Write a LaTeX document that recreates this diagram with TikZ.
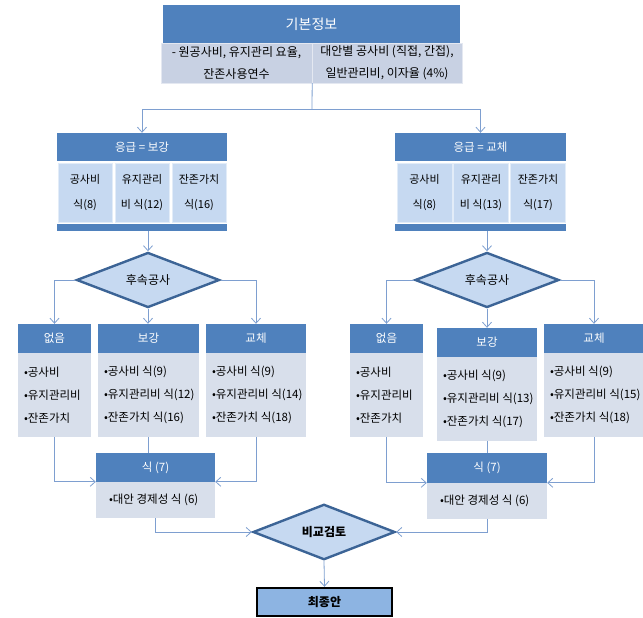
\documentclass[tikz,border=0pt]{standalone}
\usepackage{fontspec}
\setmainfont{Noto Sans CJK KR}
\usetikzlibrary{calc}
\usetikzlibrary{arrows.meta,shapes.geometric}
\definecolor{hblue}{HTML}{4F81BD}
\definecolor{ltop}{HTML}{C8D1E3}
\definecolor{lcell}{HTML}{C6D9F1}
\definecolor{lbody}{HTML}{D8DFEB}
\definecolor{dblue}{HTML}{3C6496}
\definecolor{lline}{HTML}{7E9FD0}
\definecolor{fblue}{HTML}{8DB4E2}

\begin{document}
\begin{tikzpicture}[x=1pt,y=-1pt,>={Straight Barb[length=5pt,width=9pt]}]
	\tikzset{sz/.style args={#1x#2}{minimum width=#1pt,minimum height=#2pt}}
	\tikzset{hd/.style={fill=hblue,text=white,inner sep=0pt,font=\fontsize{11.5}{13}\selectfont}}
	\tikzset{bd/.style={fill=lbody,inner sep=0pt}}
	\tikzset{cl/.style={fill=lcell,draw=white!50!lcell,inner sep=0pt,align=center,font=\fontsize{11}{25}\selectfont}}
	\tikzset{lst/.style={anchor=west,inner sep=0pt,align=left,font=\fontsize{11.5}{23}\selectfont}}
	\tikzset{dm/.style={diamond,draw=dblue,line width=2.4pt,fill=lcell,inner sep=0pt,font=\fontsize{12}{14}\selectfont}}
	\tikzset{ln/.style={draw=lline,line width=0.8pt}}
	\useasboundingbox (0,0) rectangle (643,618);
	\clip (0,0) rectangle (643,618);

	\node[hd,sz=297x38,font=\fontsize{14}{16}\selectfont] (info) at (311.5,24) {기본정보};
	\node[bd,fill=ltop,draw=white!50!ltop,sz=151x40,align=center,font=\fontsize{12}{22}\selectfont] (infoL) at (236.5,63) {- 원공사비, 유지관리 요율,\\잔존사용연수};
	\node[bd,fill=ltop,draw=white!50!ltop,sz=150x40,align=center,font=\fontsize{12}{22}\selectfont] (infoR) at (387,63) {대안별 공사비 (직접, 간접),\\일반관리비, 이자율 (4\%)};

	\node[hd,sz=170x28] (hGrL) at (142,147) {응급 = 보강};
	\node[cl,sz=54x59] (cCostL) at (85,192.5) {공사비\\식(8)};
	\node[cl,sz=54x59] (cMaintL) at (142,192.5) {유지관리\\비 식(12)};
	\node[cl,sz=54x59] (cResL) at (199,192.5) {잔존가치\\식(16)};
	\node[hd,sz=170x7] (barL) at (142,227.5) {};

	\node[hd,sz=171x28] (hGrR) at (480.5,147) {응급 = 교체};
	\node[cl,sz=55x59] (cCostR) at (424.5,192.5) {공사비\\식(8)};
	\node[cl,sz=55x59] (cMaintR) at (481,192.5) {유지관리\\비 식(13)};
	\node[cl,sz=55x59] (cResR) at (538,192.5) {잔존가치\\식(17)};
	\node[hd,sz=171x7] (barR) at (480.5,227.5) {};

	\node[dm,sz=143x50] (diaL) at (148,280) {후속공사};
	\node[dm,sz=144x50] (diaR) at (487,280) {후속공사};

	\node[hd,sz=73x29] (hNoneL) at (54.5,338.5) {없음};
	\node[bd,sz=73x84] (bNoneL) at (54.5,395) {};
	\node[lst] (tNoneL) at ([xshift=6pt]bNoneL.west) {•공사비\\•유지관리비\\•잔존가치};
	\node[hd,sz=101x29] (hReinL) at (148.5,338.5) {보강};
	\node[bd,sz=101x84] (bReinL) at (148.5,395) {};
	\node[lst] (tReinL) at ([xshift=6pt]bReinL.west) {•공사비 식(9)\\•유지관리비 식(12)\\•잔존가치 식(16)};
	\node[hd,sz=100x29] (hRepL) at (256,338.5) {교체};
	\node[bd,sz=100x84] (bRepL) at (256,395) {};
	\node[lst] (tRepL) at ([xshift=6pt]bRepL.west) {•공사비 식(9)\\•유지관리비 식(14)\\•잔존가치 식(18)};

	\node[hd,sz=73x29] (hNoneR) at (386.5,338.5) {없음};
	\node[bd,sz=73x84] (bNoneR) at (386.5,395) {};
	\node[lst] (tNoneR) at ([xshift=6pt]bNoneR.west) {•공사비\\•유지관리비\\•잔존가치};
	\node[hd,sz=100x29] (hReinR) at (487,342.5) {보강};
	\node[bd,sz=100x84] (bReinR) at (487,399) {};
	\node[lst] (tReinR) at ([xshift=6pt]bReinR.west) {•공사비 식(9)\\•유지관리비 식(13)\\•잔존가치 식(17)};
	\node[hd,sz=100x29] (hRepR) at (594,338.5) {교체};
	\node[bd,sz=100x84] (bRepR) at (594,395) {};
	\node[lst] (tRepR) at ([xshift=6pt]bRepR.west) {•공사비 식(9)\\•유지관리비 식(15)\\•잔존가치 식(18)};

	\node[hd,sz=119x29] (hEqL) at (155.5,467.5) {식 (7)};
	\node[bd,sz=119x36] (bEqL) at (155.5,500) {};
	\node[lst] (tEqL) at ([xshift=13pt]bEqL.west) {•대안 경제성 식 (6)};
	\node[hd,sz=120x30] (hEqR) at (487,468) {식 (7)};
	\node[bd,sz=120x36] (bEqR) at (487,501) {};
	\node[lst] (tEqR) at ([xshift=13pt]bEqR.west) {•대안 경제성 식 (6)};

	\node[dm,sz=142x50,font=\bfseries\fontsize{12}{14}\selectfont] (diaC) at (324,532) {비교검토};
	\node[draw=black,line width=2.4pt,fill=fblue,sz=135x28,inner sep=0pt,font=\bfseries\fontsize{12}{14}\selectfont] (final) at (324.5,602) {최종안};

	\coordinate (sp) at (312,109);
	\draw[ln] (infoL.south east) -- (sp);
	\draw[ln,->] (sp) -| (hGrL.north);
	\draw[ln,->] (sp) -| (hGrR.north);
	\draw[ln,->] (barL.south -| diaL.north) -- (diaL.north);
	\draw[ln,->] (barR.south -| diaR.north) -- (diaR.north);

	\draw[ln,->] (diaL.west) -| (hNoneL.north);
	\draw[ln,->] (diaL.south) -- (diaL.south |- hReinL.north);
	\draw[ln,->] (diaL.east) -| (hRepL.north);
	\draw[ln,->] (diaR.west) -| (hNoneR.north);
	\draw[ln,->] (diaR.south) -- (hReinR.north);
	\draw[ln,->] (diaR.east) -| (hRepR.north);

	\draw[ln,->] (bNoneL.south) |- (bEqL.north west);
	\draw[ln] (bReinL.south) -- (bReinL.south |- hEqL.north);
	\draw[ln,->] (bRepL.south) |- (bEqL.north east);
	\draw[ln,->] (bNoneR.south) |- (bEqR.north west);
	\draw[ln] (bReinR.south) -- (hEqR.north);
	\draw[ln,->] (bRepR.south) |- (bEqR.north east);

	\draw[ln,->] (bEqL.south) |- (diaC.west);
	\draw[ln,->] (bEqR.south) |- (diaC.east);
	\draw[ln,->] (diaC.south) -- (final.north);
\end{tikzpicture}
\end{document}
